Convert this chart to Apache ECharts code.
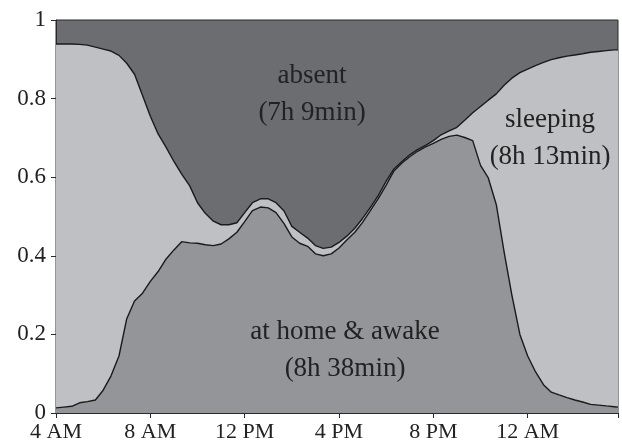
<!DOCTYPE html>
<html>
<head>
<meta charset="utf-8">
<script src="https://cdn.jsdelivr.net/npm/echarts@6/dist/echarts.min.js"></script>
<style>
  html, body { margin: 0; padding: 0; background: #fff; }
  #chart { width: 622px; height: 448px; }
</style>
</head>
<body>
<div id="chart"></div>
<script>
// hours after 4 AM, one reading every 20 minutes
var hours = [
    0, 0.33, 0.67, 1, 1.33, 1.67, 2, 2.33, 2.67, 3, 3.33, 3.67,
    4, 4.33, 4.67, 5, 5.33, 5.67, 6, 6.33, 6.67, 7, 7.33, 7.67,
    8, 8.33, 8.67, 9, 9.33, 9.67, 10, 10.33, 10.67, 11, 11.33, 11.67,
    12, 12.33, 12.67, 13, 13.33, 13.67, 14, 14.33, 14.67, 15, 15.33, 15.67,
    16, 16.33, 16.67, 17, 17.33, 17.67, 18, 18.33, 18.67, 19, 19.33, 19.67,
    20, 20.33, 20.67, 21, 21.33, 21.67, 22, 22.33, 22.67, 23, 23.33, 23.67, 23.83
];

// share at home & awake (lower curve)
var awake = [
    0.013, 0.015, 0.017, 0.026, 0.029, 0.033, 0.058, 0.094, 0.145, 0.240, 0.285, 0.305,
    0.335, 0.360, 0.392, 0.415, 0.436, 0.433, 0.432, 0.428, 0.426, 0.430, 0.443, 0.460,
    0.487, 0.515, 0.524, 0.522, 0.510, 0.482, 0.448, 0.432, 0.424, 0.405, 0.400, 0.405,
    0.420, 0.440, 0.460, 0.485, 0.515, 0.546, 0.580, 0.616, 0.636, 0.652, 0.666, 0.677,
    0.686, 0.696, 0.704, 0.707, 0.701, 0.693, 0.630, 0.598, 0.530, 0.410, 0.300, 0.200,
    0.145, 0.105, 0.072, 0.053, 0.046, 0.039, 0.033, 0.028, 0.022, 0.020, 0.018, 0.016, 0.015
];

// share at home (awake + sleeping) = upper curve, the rest is absent
var atHome = [
    0.939, 0.939, 0.939, 0.938, 0.936, 0.931, 0.926, 0.921, 0.910, 0.890, 0.862, 0.808,
    0.755, 0.710, 0.676, 0.640, 0.608, 0.578, 0.535, 0.508, 0.488, 0.479, 0.479, 0.484,
    0.510, 0.535, 0.545, 0.545, 0.535, 0.514, 0.475, 0.460, 0.445, 0.426, 0.419, 0.422,
    0.434, 0.450, 0.470, 0.495, 0.523, 0.554, 0.590, 0.621, 0.640, 0.657, 0.670, 0.681,
    0.693, 0.708, 0.718, 0.727, 0.745, 0.764, 0.780, 0.796, 0.812, 0.834, 0.852, 0.866,
    0.875, 0.884, 0.892, 0.899, 0.904, 0.908, 0.911, 0.914, 0.918, 0.920, 0.922, 0.924, 0.924
];

var tickLabels = ['4 AM', '8 AM', '12 PM', '4 PM', '8 PM', '12 AM'];

var serif = "'Liberation Serif', 'Times New Roman', serif";

var awakeData = [], homeData = [];
for (var i = 0; i < hours.length; i++) {
    awakeData.push([hours[i], awake[i]]);
    homeData.push([hours[i], atHome[i]]);
}

var myChart = echarts.init(document.getElementById('chart'), null, { renderer: 'canvas' });

function addLabel(text, x, y) {  // 区域说明文字
    return {
        type: 'text', x: x, y: y, z: 10,
        style: { text: text, fill: '#222', font: '27px ' + serif, align: 'center', verticalAlign: 'middle', lineHeight: 37 }
    };
}

var option = {
    animation: false,
    grid: {
        left: 56, right: 4, top: 20, bottom: 35,
        show: true,
        backgroundColor: '#6c6d71',   // absent = everything above the upper curve
        borderColor: '#2a2a2a',
        borderWidth: 1
    },
    xAxis: {
        type: 'value',
        min: 0,
        max: 23.83,
        interval: 4,
        splitLine: { show: false },
        axisLine: { show: true, lineStyle: { color: '#2a2a2a', width: 1 } },
        axisTick: { show: true, length: 5, lineStyle: { color: '#2a2a2a' } },
        axisLabel: {
            color: '#222',
            fontFamily: serif,
            fontSize: 22,
            margin: 8,
            formatter: function (v) {
                var k = Math.round(v / 4);
                if (Math.abs(v - k * 4) > 0.01) return '';
                return tickLabels[k] || '';
            }
        }
    },
    yAxis: {
        type: 'value',
        min: 0,
        max: 1,
        interval: 0.2,
        splitLine: { show: false },
        axisLine: { show: true, lineStyle: { color: '#2a2a2a', width: 1 } },
        axisTick: { show: true, length: 5, lineStyle: { color: '#2a2a2a' } },
        axisLabel: {
            color: '#222',
            fontFamily: serif,
            fontSize: 23,
            margin: 10
        }
    },
    series: [
        {
            name: 'sleeping',
            type: 'line',
            data: homeData,
            showSymbol: false,
            lineStyle: { color: '#1a1a1a', width: 1.4 },
            areaStyle: { color: '#bfc0c3', opacity: 1, origin: 'start' },
            z: 2
        },
        {
            name: 'at home & awake',
            type: 'line',
            data: awakeData,
            showSymbol: false,
            lineStyle: { color: '#1a1a1a', width: 1.4 },
            areaStyle: { color: '#949598', opacity: 1, origin: 'start' },
            z: 3
        }
    ],
    graphic: [
        addLabel('absent\n(7h 9min)', 312, 94),
        addLabel('at home & awake\n(8h 38min)', 345, 350),
        addLabel('sleeping\n(8h 13min)', 550, 138)
    ]
};

myChart.setOption(option);
</script>
</body>
</html>
